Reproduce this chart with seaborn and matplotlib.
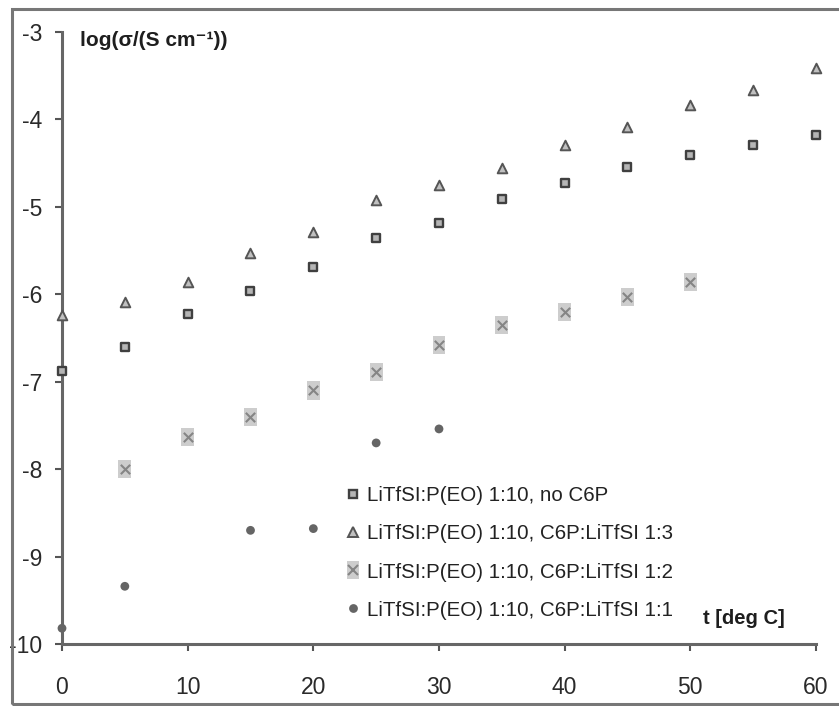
import seaborn as sns
import matplotlib.pyplot as plt
from matplotlib.patches import Rectangle
from matplotlib.lines import Line2D

# temperature [deg C] and log(sigma / (S cm^-1))
t_no_c6p = [0, 5, 10, 15, 20, 25, 30, 35, 40, 45, 50, 55, 60]
log_no_c6p = [-6.88, -6.60, -6.23, -5.96, -5.69, -5.36, -5.19, -4.91, -4.73, -4.54, -4.41, -4.29, -4.18]

t_13 = [0, 5, 10, 15, 20, 25, 30, 35, 40, 45, 50, 55, 60]
log_13 = [-6.24, -6.09, -5.86, -5.53, -5.29, -4.92, -4.75, -4.56, -4.29, -4.09, -3.84, -3.66, -3.41]

t_12 = [5, 10, 15, 20, 25, 30, 35, 40, 45, 50]
log_12 = [-8.00, -7.63, -7.40, -7.10, -6.89, -6.58, -6.35, -6.20, -6.03, -5.86]

t_11 = [0, 5, 15, 20, 25, 30]
log_11 = [-9.82, -9.34, -8.70, -8.68, -7.70, -7.54]

labels = [
    "LiTfSI:P(EO) 1:10, no C6P",
    "LiTfSI:P(EO) 1:10, C6P:LiTfSI 1:3",
    "LiTfSI:P(EO) 1:10, C6P:LiTfSI 1:2",
    "LiTfSI:P(EO) 1:10, C6P:LiTfSI 1:1",
]

sns.set_theme()
sns.set_style("white")
plt.rcParams["font.family"] = ["Liberation Sans", "DejaVu Sans"]
plt.rcParams["axes.unicode_minus"] = False

W, H = 839, 706
fig = plt.figure(figsize=(W / 100, H / 100), dpi=100)
ax = fig.add_axes([62 / W, 1 - 644 / H, (816 - 62) / W, (644 - 32) / H])

# outer frame round the chart
fig.patches.append(Rectangle((12 / W, 2 / H), 1.2, 1 - 11 / H, transform=fig.transFigure,
                             fill=False, edgecolor="#777777", linewidth=2.2))

tall_box = [(-0.7, -1), (0.7, -1), (0.7, 1), (-0.7, 1), (-0.7, -1)]
sq = dict(marker="s", s=40, color="#b5b5b5", edgecolor="#404040", linewidth=1.7)
tri = dict(marker="^", s=48, color="#c0c0c0", edgecolor="#555555", linewidth=1.4)
box = dict(marker=tall_box, s=170, color="#cdcdcd", edgecolor="none", linewidth=0)
cross = dict(marker="x", s=45, color="#858585", linewidth=1.5)
dot = dict(marker="o", s=40, color="#656565", edgecolor="none", linewidth=0)

sns.scatterplot(x=t_no_c6p, y=log_no_c6p, ax=ax, clip_on=False, zorder=3, **sq)
sns.scatterplot(x=t_13, y=log_13, ax=ax, clip_on=False, zorder=3, **tri)
sns.scatterplot(x=t_12, y=log_12, ax=ax, clip_on=False, zorder=3, **box)
sns.scatterplot(x=t_12, y=log_12, ax=ax, clip_on=False, zorder=4, **cross)
sns.scatterplot(x=t_11, y=log_11, ax=ax, clip_on=False, zorder=3, **dot)

ax.set_xlim(0, 60)
ax.set_ylim(-10, -3)
ax.set_xticks(range(0, 61, 10))
ax.set_yticks(range(-10, -2))
ax.tick_params(axis="both", direction="out", length=5, width=1.5, color="#555555",
               labelsize=16.5, labelcolor="#2a2a2a")
ax.tick_params(axis="y", pad=9, left=True)
ax.tick_params(axis="x", pad=18, bottom=True)
for side in ["top", "right"]:
    ax.spines[side].set_visible(False)
for side in ["left", "bottom"]:
    ax.spines[side].set_color("#666666")
    ax.spines[side].set_linewidth(2.2)
ax.set_xlabel("")
ax.set_ylabel("")

fig.text(80 / W, 1 - 40 / H, "log(σ/(S cm⁻¹))", fontsize=15, fontweight="bold",
         va="center", ha="left", color="#1e1e1e")
fig.text(703 / W, 1 - 618 / H, "t [deg C]", fontsize=14.5, fontweight="bold",
         va="center", ha="left", color="#1e1e1e")

def mk(st):
    edge = st["color"] if st["marker"] == "x" else st.get("edgecolor", st["color"])
    return Line2D([], [], linestyle="none", marker=st["marker"],
                  markersize=st["s"] ** 0.5, markerfacecolor=st["color"],
                  markeredgecolor=edge, markeredgewidth=st["linewidth"])

handles = [mk(sq), mk(tri), (mk(box), mk(cross)), mk(dot)]
ax.legend(handles, labels, loc="upper left", bbox_to_anchor=(336 / W, 1 - 476 / H),
          bbox_transform=fig.transFigure, frameon=False, fontsize=14.8,
          handlelength=0.7, handletextpad=0.3, labelspacing=0.93, borderpad=0,
          labelcolor="#222222")

fig.savefig("out.png", dpi=100)
